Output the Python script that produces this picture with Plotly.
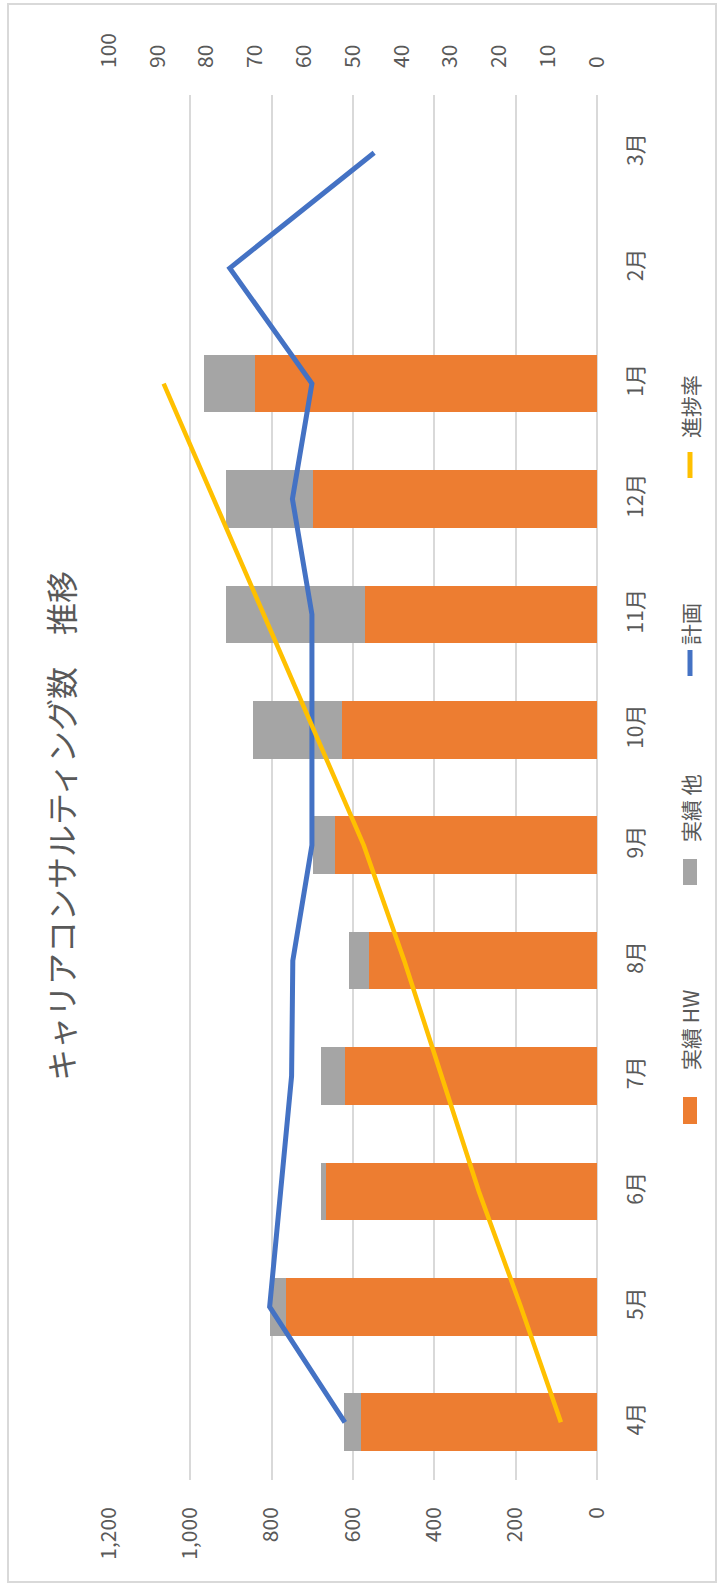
import plotly.graph_objects as go

# Monthly career-consulting counts (fiscal year, April to March)
months = ["4月", "5月", "6月", "7月", "8月", "9月", "10月", "11月", "12月", "1月", "2月", "3月"]
actual_hw = [581, 765, 667, 620, 560, 645, 628, 571, 698, 842, None, None]
actual_other = [42, 38, 11, 58, 51, 53, 219, 341, 214, 125, None, None]
plan = [620, 805, 778, 751, 748, 701, 701, 701, 749, 701, 903, 548]
progress_rate = [7.4, 15.6, 24.2, 31.9, 39.5, 47.8, 58.0, 68.3, 78.5, 88.8, None, None]

count_ticks = [0, 200, 400, 600, 800, 1000, 1200]
rate_ticks = [0, 10, 20, 30, 40, 50, 60, 70, 80, 90, 100]

ORANGE = "#ED7D31"
GRAY = "#A5A5A5"
BLUE = "#4472C4"
YELLOW = "#FFC000"
TEXT = "#595959"
GRID = "#D9D9D9"
FONT = "Noto Sans CJK JP"

W, H = 720, 1585
# plot box in pixels (chart is laid out turned a quarter turn)
L, R, T, B = 109, 597, 95, 1480


def px_x(px):
    return (px - L) / (R - L)


def px_y(py):
    return (B - py) / (B - T)


fig = go.Figure()

fig.add_trace(go.Bar(
    y=months, x=actual_hw, orientation="h", name="実績 HW",
    marker=dict(color=ORANGE, line=dict(width=0)),
))
fig.add_trace(go.Bar(
    y=months, x=actual_other, orientation="h", name="実績 他",
    marker=dict(color=GRAY, line=dict(width=0)),
))
fig.add_trace(go.Scatter(
    y=months, x=plan, mode="lines", name="計画",
    line=dict(color=BLUE, width=5),
))
fig.add_trace(go.Scatter(
    y=months, x=progress_rate, mode="lines", name="進捗率", xaxis="x2",
    line=dict(color=YELLOW, width=4.5),
))

tick_font = dict(family=FONT, size=21, color=TEXT)

fig.update_layout(
    width=W, height=H,
    margin=dict(l=L, r=W - R, t=T, b=H - B, pad=0),
    paper_bgcolor="white", plot_bgcolor="white",
    barmode="stack", bargap=0.5,
    showlegend=False,
    font=dict(family=FONT, color=TEXT),
    xaxis=dict(
        range=[1200, 0], tickvals=count_ticks, tickformat=",",
        side="bottom", tickangle=-90, tickfont=tick_font,
        showgrid=True, gridcolor=GRID, gridwidth=1.5,
        zeroline=True, zerolinecolor=GRID, zerolinewidth=1.5,
        showline=False, ticks="", ticklabelstandoff=22,
    ),
    xaxis2=dict(
        range=[100, 0], tickvals=rate_ticks, overlaying="x",
        side="top", tickangle=-90, tickfont=tick_font,
        showgrid=False, zeroline=False, showline=False,
        ticks="", ticklabelstandoff=26,
    ),
    yaxis=dict(
        type="category", categoryorder="array", categoryarray=months,
        range=[-0.5, 11.5], side="right", tickangle=-90,
        tickfont=tick_font, showgrid=False, zeroline=False,
        showline=False, ticks="", ticklabelstandoff=24,
    ),
)

# chart title, set along the left edge
fig.add_annotation(
    text="キャリアコンサルティング数　推移",
    xref="paper", yref="paper", x=px_x(60), y=px_y(826),
    xanchor="center", yanchor="middle", textangle=-90, showarrow=False,
    font=dict(family=FONT, size=32, color=TEXT),
)

# legend drawn along the right edge
leg_x = 690
legend_items = [
    ("rect", ORANGE, 1097, 1124, "実績 HW", 1030),
    ("rect", GRAY, 859, 885, "実績 他", 808),
    ("line", BLUE, 650, 676, "計画", 624),
    ("line", YELLOW, 452, 478, "進捗率", 407),
]
for kind, color, y_top, y_bot, label, label_y in legend_items:
    if kind == "rect":
        fig.add_shape(
            type="rect", xref="paper", yref="paper",
            x0=px_x(leg_x - 7), x1=px_x(leg_x + 7),
            y0=px_y(y_bot), y1=px_y(y_top),
            fillcolor=color, line=dict(width=0),
        )
    else:
        fig.add_shape(
            type="line", xref="paper", yref="paper",
            x0=px_x(leg_x), x1=px_x(leg_x),
            y0=px_y(y_bot), y1=px_y(y_top),
            line=dict(color=color, width=5),
        )
    fig.add_annotation(
        text=label, xref="paper", yref="paper",
        x=px_x(leg_x), y=px_y(label_y),
        xanchor="center", yanchor="middle", textangle=-90, showarrow=False,
        font=dict(family=FONT, size=21, color=TEXT),
    )

# chart frame
fig.add_shape(
    type="rect", xref="paper", yref="paper",
    x0=px_x(8), x1=px_x(716), y0=px_y(1582), y1=px_y(4),
    line=dict(color=GRID, width=2), fillcolor="rgba(0,0,0,0)", layer="below",
)

fig.write_html("out.html")
